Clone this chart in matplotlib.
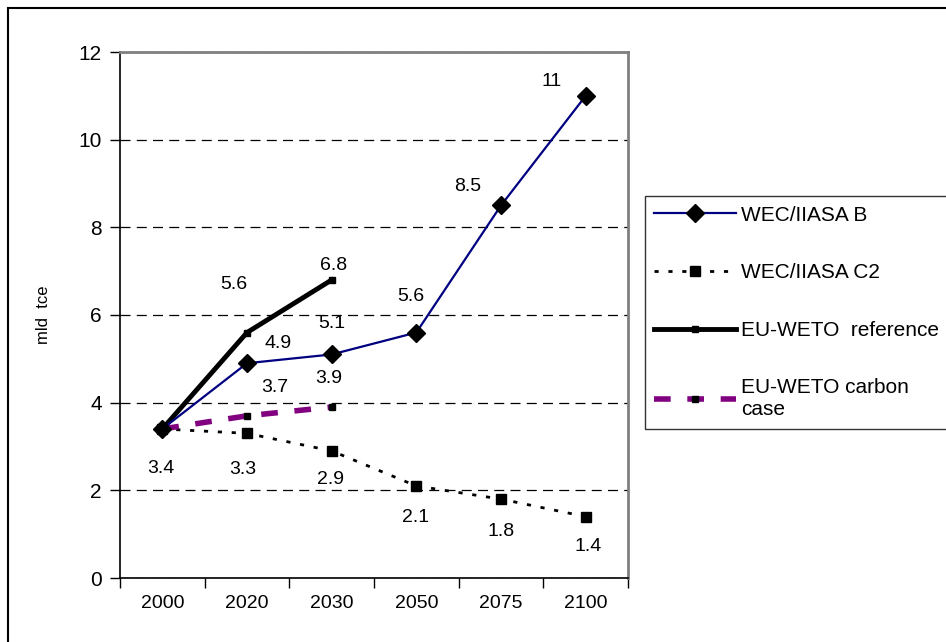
import matplotlib.pyplot as plt
import matplotlib.patches as patches

plt.rcParams['font.family'] = ['Liberation Sans', 'DejaVu Sans']

years = ['2000', '2020', '2030', '2050', '2075', '2100']
wec_b = [3.4, 4.9, 5.1, 5.6, 8.5, 11]
wec_c2 = [3.4, 3.3, 2.9, 2.1, 1.8, 1.4]
weto_ref = [3.4, 5.6, 6.8]
weto_carbon = [3.4, 3.7, 3.9]

x = list(range(len(years)))

fig = plt.figure(figsize=(9.46, 6.42), dpi=100)
ax = fig.add_axes([120/946, 1-578/642, 508/946, 526/642])

ax.plot(x, wec_c2, color='black', lw=2, linestyle=(0, (1.5, 3.5)),
        marker='s', ms=7, label='WEC/IIASA C2', zorder=3)
ax.plot(x[:3], weto_carbon, color='#800080', lw=4, linestyle=(0, (3, 3)),
        marker='s', ms=5, mfc='black', mec='black', label='EU-WETO carbon\ncase', zorder=3)
ax.plot(x[:3], weto_ref, color='black', lw=3.5, marker='s', ms=4,
        label='EU-WETO  reference', zorder=4)
ax.plot(x, wec_b, color='#000080', lw=1.6, marker='D', ms=9.5,
        mfc='black', mec='black', label='WEC/IIASA B', zorder=5)

# value labels (offsets in pixels)
off_b = [(-1, -40), (31, 20), (0, 31), (-6, 36), (-33, 19), (-34, 14)]
off_c2 = [None, (-4, -36), (-1, -29), (-1, -32), (0, -32), (2, -30)]
off_ref = [None, (-13, 48), (2, 14)]
off_carbon = [None, (28, 28), (-3, 29)]

for vals, offs in [(wec_b, off_b), (wec_c2, off_c2), (weto_ref, off_ref), (weto_carbon, off_carbon)]:
    for i, v in enumerate(vals):
        if offs[i] is None:
            continue
        ax.annotate('%g' % v, (x[i], v), xytext=offs[i], textcoords='offset pixels',
                    ha='center', va='center', fontsize=14)

ax.set_xlim(-0.5, 5.5)
ax.set_ylim(0, 12)
ax.set_yticks(range(0, 13, 2))
ax.set_xticks(x)
ax.set_xticklabels(years)
ax.set_xticks([i - 0.5 for i in range(7)], minor=True)
ax.tick_params(axis='x', which='major', length=0, pad=12, labelsize=14)
ax.tick_params(axis='x', which='minor', length=7, width=1, direction='out')
ax.tick_params(axis='y', length=7, width=1, direction='out', pad=6, labelsize=15)
ax.yaxis.grid(True, color='black', lw=0.9, linestyle=(0, (8, 5)))
ax.set_axisbelow(True)
for s in ['top', 'right']:
    ax.spines[s].set_color('#808080')
    ax.spines[s].set_linewidth(2)
for s in ['left', 'bottom']:
    ax.spines[s].set_linewidth(1.2)
ax.set_ylabel('mld  tce', fontsize=12, labelpad=20)

h, l = ax.get_legend_handles_labels()
order = [3, 0, 2, 1]
leg = fig.legend([h[i] for i in order], [l[i] for i in order],
                 loc='upper left', bbox_to_anchor=(645/946, 1-197/642, 310/946, 0.001),
                 mode='expand',
                 fontsize=15, frameon=True, fancybox=False, handlelength=3.9,
                 handletextpad=0.25, labelspacing=1.85, borderpad=0.45,
                 borderaxespad=0)
leg.get_frame().set_edgecolor('black')
leg.get_frame().set_linewidth(1)

border = patches.Rectangle((8/946, -0.1), 2, 1 - 8/642 + 0.1, transform=fig.transFigure,
                           fill=False, edgecolor='black', lw=1.5, clip_on=False)
fig.patches.append(border)

fig.savefig('out.png', dpi=100)
